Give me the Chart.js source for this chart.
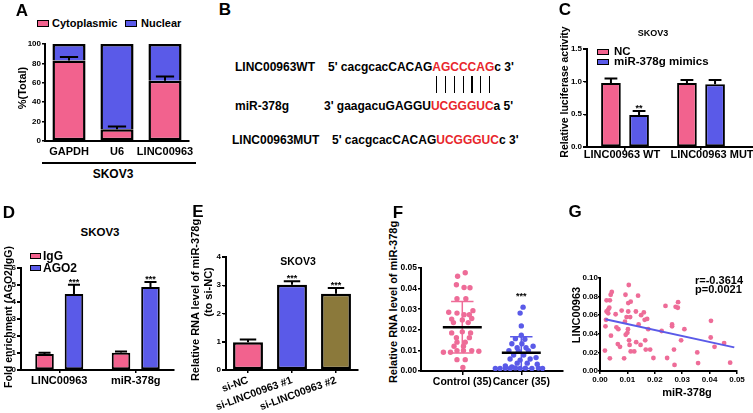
<!DOCTYPE html>
<html>
<head>
<meta charset="utf-8">
<script src="https://cdn.jsdelivr.net/npm/chart.js"></script>
<style>
  body { margin: 0; background: #fff; }
  #fig { position: relative; width: 753px; height: 413px; overflow: hidden; background: #fff;
         font-family: "Liberation Sans", Arial, sans-serif; font-weight: bold; color: #000; }
  #fig canvas { position: absolute; }
  .t { position: absolute; white-space: nowrap; line-height: 1; }
  .sw { position: absolute; border: 1.5px solid #000; box-sizing: border-box; }
  .red { color: #e8262c; }
</style>
</head>
<body>
<div id="fig"></div>
<script>
// A - subcellular fraction
const catA = ['GAPDH', 'U6', 'LINC00963'];
const cytoA = [83, 12, 62];
const cytoErrA = [3.5, 3, 4.5];
const nucA = [17, 88, 38];

// C - luciferase
const catC = ['LINC00963 WT', 'LINC00963 MUT'];
const ncC = [0.98, 0.98];
const ncErrC = [0.07, 0.045];
const mimC = [0.49, 0.96];
const mimErrC = [0.06, 0.065];
const sigC = ['**', ''];
const yTicksC = [0, 0.5, 1.0, 1.5];

// D - RIP
const catD = ['LINC00963', 'miR-378g'];
const iggD = [0.94, 1.02];
const iggErrD = [0.07, 0.07];
const agoD = [4.47, 4.88];
const agoErrD = [0.55, 0.3];
const sigD = ['***', '***'];
const yTicksD = [0, 1, 2, 3, 4, 5, 6];

// E - knockdown
const catE = ['si-NC', 'si-LINC00963 #1', 'si-LINC00963 #2'];
const valE = [0.98, 3.02, 2.70];
const errE = [0.1, 0.12, 0.2];
const sigE = ['', '***', '***'];
const yTicksE = [0, 1, 2, 3, 4];

// F - tissue levels (jitter = horizontal spread in category units)
const catF = ['Control (35)', 'Cancer (35)'];
const controlF = [0.0477, 0.046, 0.0419, 0.0405, 0.0404, 0.0351, 0.0351, 0.0293, 0.0285, 0.0281,
  0.0273, 0.0273, 0.0255, 0.0252, 0.0248, 0.0235, 0.0235, 0.0185, 0.019, 0.0185,
  0.0162, 0.0162, 0.014, 0.014, 0.012, 0.012, 0.0091, 0.0091, 0.0099, 0.0099,
  0.0099, 0.0096, 0.0055, 0.0055, 0.0017];
const controlJitF = [0.05, -0.08, -0.1, 0.03, 0.13, -0.09, 0.06, 0.18, -0.23, -0.09,
  0.03, 0.12, 0.16, -0.18, 0, -0.15, 0.1, -0.18, 0, 0.14,
  -0.1, 0.12, -0.09, 0.05, -0.14, 0.02, -0.32, -0.2, -0.09, 0.02,
  0.16, 0.28, -0.09, 0.05, 0.01];
const cancerF = [0.031, 0.0281, 0.0219, 0.0174, 0.0157, 0.0154, 0.0132, 0.0132, 0.012, 0.0113,
  0.0113, 0.0099, 0.0096, 0.0099, 0.0078, 0.0078, 0.0065, 0.0058, 0.0053, 0.0058,
  0.0038, 0.0038, 0.0033, 0.0025, 0.002, 0.0012, 0.0012, 0.0013, 0.0012, 0.0015,
  0.0012, 0.0013, 0.0012, 0.0014, 0.0012];
const cancerJitF = [0.03, -0.02, 0, 0, -0.1, 0.06, -0.16, 0.01, 0.2, -0.07,
  0.08, -0.21, -0.05, 0.12, -0.13, 0.04, 0.25, -0.19, -0.02, 0.15,
  -0.07, 0.1, 0.27, -0.27, -0.16, -0.44, -0.36, -0.27, -0.19, -0.1,
  -0.02, 0.07, 0.18, 0.29, 0.36];
const meanF = [0.0212, 0.0089];
const sdF = [0.0125, 0.0077];
const sigF = ['', '***'];
const sigLevelF = 0.035;

// G - correlation
const mirG = [0.0018, 0.0036, 0.002, 0.0022, 0.0024, 0.003, 0.0034, 0.0024, 0.0036, 0.0039,
  0.0043, 0.003, 0.004, 0.0057, 0.006, 0.0067, 0.0065, 0.0073, 0.0079, 0.0091,
  0.0097, 0.0094, 0.010, 0.0088, 0.0093, 0.0103, 0.0103, 0.0105, 0.0112, 0.011,
  0.0102, 0.0106, 0.0108, 0.0112, 0.0125, 0.0131, 0.0139, 0.0132, 0.0141, 0.0148,
  0.015, 0.016, 0.0165, 0.0167, 0.0163, 0.0172, 0.0176, 0.0183, 0.0195, 0.0225,
  0.0239, 0.0245, 0.0263, 0.0263, 0.027, 0.0272, 0.0276, 0.0285, 0.0284, 0.0296,
  0.0308, 0.0355, 0.0358, 0.0405, 0.0404, 0.0418, 0.0453, 0.0475];
const lincG = [0.022, 0.0136, 0.048, 0.055, 0.064, 0.066, 0.068, 0.076, 0.076, 0.082,
  0.085, 0.062, 0.038, 0.061, 0.047, 0.045, 0.029, 0.026, 0.065, 0.053,
  0.058, 0.039, 0.041, 0.0136, 0.082, 0.064, 0.073, 0.0925, 0.0745, 0.058,
  0.045, 0.033, 0.028, 0.021, 0.021, 0.064, 0.081, 0.031, 0.050, 0.028,
  0.06, 0.063, 0.033, 0.023, 0.055, 0.056, 0.045, 0.023, 0.014, 0.043,
  0.070, 0.014, 0.050, 0.048, 0.023, 0.0065, 0.069, 0.074, 0.068, 0.033,
  0.045, 0.020, 0.0085, 0.054, 0.036, 0.026, 0.030, 0.009];
const fitXG = [0.002, 0.049];
const fitYG = [0.0556, 0.0254];
const statG = ['r=-0.3614', 'p=0.0021'];

const PINK = '#F2628E', BLUE = '#5A5AE8', OLIVE = '#8B793B';
const DOT_PINK = '#EE6C98';
const FONT = '"Liberation Sans", Arial, sans-serif';
const BAR_TICK = 8;

Chart.defaults.font.family = FONT;
Chart.defaults.font.weight = 'bold';
Chart.defaults.color = '#000';

const fig = document.getElementById('fig');

function txt(html, x, y, size, o = {}) {
  const d = document.createElement('div');
  d.className = 't';
  d.innerHTML = html;
  d.style.fontSize = size + 'px';
  d.style.left = x + 'px';
  d.style.top = y + 'px';
  let tf = o.left ? 'translate(0,-50%)' : o.right ? 'translate(-100%,-50%)' : 'translate(-50%,-50%)';
  if (o.rot) tf += ' rotate(-90deg)';
  d.style.transform = tf;
  fig.appendChild(d);
  return d;
}

function swatch(x, y, w, h, color) {
  const d = document.createElement('div');
  d.className = 'sw';
  Object.assign(d.style, { left: x + 'px', top: y + 'px', width: w + 'px', height: h + 'px', background: color });
  fig.appendChild(d);
}

function rule(x, y, w, h) {
  const d = document.createElement('div');
  Object.assign(d.style, { position: 'absolute', left: x + 'px', top: y + 'px', width: w + 'px', height: h + 'px', background: '#000' });
  fig.appendChild(d);
}

// error bars and significance stars for bar charts
const errorBars = {
  id: 'errorBars',
  afterDatasetsDraw(chart) {
    const ctx = chart.ctx, y = chart.scales.y;
    chart.data.datasets.forEach((ds, i) => {
      if (!ds.errors) return;
      chart.getDatasetMeta(i).data.forEach((bar, j) => {
        const top = y.getPixelForValue(ds.data[j] + ds.errors[j]);
        const half = bar.width * ds.capRatio / 2;
        ctx.save();
        ctx.strokeStyle = '#000';
        ctx.lineWidth = 2;
        ctx.beginPath();
        ctx.moveTo(bar.x, bar.y);
        ctx.lineTo(bar.x, top);
        ctx.moveTo(bar.x - half, top);
        ctx.lineTo(bar.x + half, top);
        ctx.stroke();
        if (ds.stars && ds.stars[j]) {
          ctx.fillStyle = '#000';
          ctx.font = 'bold 9px ' + FONT;
          ctx.textAlign = 'center';
          ctx.textBaseline = 'alphabetic';
          ctx.fillText(ds.stars[j], bar.x, top);
        }
        ctx.restore();
      });
    });
  }
};

function makeChart(box, area, config) {
  const c = document.createElement('canvas');
  c.width = box[2];
  c.height = box[3];
  c.style.left = box[0] + 'px';
  c.style.top = box[1] + 'px';
  fig.appendChild(c);
  const o = config.options;
  o.responsive = false;
  o.animation = false;
  o.layout = { autoPadding: false, padding: { left: 0, top: area[1] - box[1], right: box[0] + box[2] - area[2], bottom: 0 } };
  o.scales.x.afterFit = s => { s.height = box[1] + box[3] - area[3]; };
  o.scales.y.afterFit = s => { s.width = area[0] - box[0]; };
  o.plugins = { legend: { display: false }, tooltip: { enabled: false } };
  return new Chart(c, config);
}

// value-axis numbers and tick marks of the bar panels (laid on top as page text)
const tickJobs = [];
function yTickText(ticks, dec, area) {
  const lo = ticks[0], hi = ticks[ticks.length - 1];
  ticks.forEach(v => {
    const py = area[1] + (hi - v) / (hi - lo) * (area[3] - area[1]);
    tickJobs.push([v.toFixed(dec), area[0] - 4, py]);
    rule(area[0] - 4, py - 0.75, 4, 1.5);
  });
}

function yAxis(min, max, step, size, dec, extra = {}) {
  return Object.assign({
    min, max,
    ticks: { stepSize: step, font: { size }, padding: 1, autoSkip: false, callback: v => v.toFixed(dec) },
    grid: { drawOnChartArea: false, tickLength: 3, color: '#000', lineWidth: 1.5 },
    border: { color: '#000', width: 2 }
  }, extra);
}

function barYAxis(ticks, dec) {
  const a = yAxis(ticks[0], ticks[ticks.length - 1], ticks[1] - ticks[0], BAR_TICK, dec);
  a.ticks.display = false;
  return a;
}

function catAxis(size, tickLen, pad, extra = {}) {
  return Object.assign({
    ticks: { font: { size }, padding: pad, autoSkip: false, maxRotation: 0 },
    grid: { drawOnChartArea: false, offset: false, drawTicks: tickLen > 0, tickLength: tickLen, color: '#000', lineWidth: 1.5 },
    border: { color: '#000', width: 2 }
  }, extra);
}

// ---------- A ----------
makeChart([20, 36, 180, 124], [45, 44, 189, 141], {
  type: 'bar',
  data: {
    labels: catA,
    datasets: [
      { label: 'Cytoplasmic', data: cytoA, errors: cytoErrA, capRatio: 0.55, backgroundColor: PINK,
        borderColor: '#000', borderWidth: 2.5, borderSkipped: false, barPercentage: 0.69, categoryPercentage: 1 },
      { label: 'Nuclear', data: nucA, backgroundColor: BLUE,
        borderColor: '#000', borderWidth: 2.5, borderSkipped: 'start', barPercentage: 0.69, categoryPercentage: 1 }
    ]
  },
  options: {
    scales: {
      x: catAxis(11, 0, 4, { stacked: true }),
      y: yAxis(0, 100, 20, 8, 0, { stacked: true })
    }
  },
  plugins: [errorBars]
});
swatch(37, 20, 12, 7, PINK); txt('Cytoplasmic', 52, 23, 11, { left: true });
swatch(125, 20, 12, 7, BLUE); txt('Nuclear', 141, 23, 11, { left: true });
txt('%(Total)', 22, 88, 11, { rot: true });
rule(42, 162, 154, 1.5);
txt('SKOV3', 113, 174, 12);

// ---------- B ----------
const seqRows = [
  { name: 'LINC00963WT', nx: 235, sx: 328, y: 67, pre: "5' cacgcacCACAG", hit: 'AGCCCAG', post: "c 3'" },
  { name: 'miR-378g', nx: 235, sx: 324, y: 106, pre: "3' gaagacuGAGGU", hit: 'UCGGGUC', post: "a 5'" },
  { name: 'LINC00963MUT', nx: 232, sx: 332, y: 140, pre: "5' cacgcacCACAG", hit: 'UCGGGUC', post: "c 3'" }
];
const hitSpans = [];
seqRows.forEach((r, k) => {
  txt(r.name, r.nx, r.y, 12, { left: true });
  const letters = r.hit.split('').map(ch => '<span class="red">' + ch + '</span>').join('');
  const d = txt(r.pre + letters + r.post, r.sx, r.y, 12, { left: true });
  if (k === 0) hitSpans.push(...d.querySelectorAll('.red'));
});
const figBox = fig.getBoundingClientRect();
hitSpans.forEach(s => {
  const b = s.getBoundingClientRect();
  rule(b.left - figBox.left + b.width / 2 - 0.6, 76, 1.3, 17);
});

// ---------- C ----------
const areaC = [587, 49, 739, 147];
const xAxisC = catAxis(11, 3, 0);
xAxisC.ticks.display = false;
makeChart([560, 40, 193, 125], areaC, {
  type: 'bar',
  data: {
    labels: catC,
    datasets: [
      { label: 'NC', data: ncC, errors: ncErrC, capRatio: 0.65, backgroundColor: PINK,
        borderColor: '#000', borderWidth: 2, borderSkipped: false, barPercentage: 0.7, categoryPercentage: 0.74 },
      { label: 'miR-378g mimics', data: mimC, errors: mimErrC, stars: sigC, capRatio: 0.65, backgroundColor: BLUE,
        borderColor: '#000', borderWidth: 2, borderSkipped: false, barPercentage: 0.7, categoryPercentage: 0.74 }
    ]
  },
  options: {
    scales: {
      x: xAxisC,
      y: barYAxis(yTicksC, 1)
    }
  },
  plugins: [errorBars]
});
yTickText(yTicksC, 1, areaC);
rule(738, 146, 15, 2);
txt(catC[0], 622, 154, 11);
txt(catC[1], 712, 154, 11);
txt('SKOV3', 653, 33, 9);
swatch(597, 49, 12, 6, PINK); txt('NC', 614, 52, 11.5, { left: true });
swatch(597, 59, 12, 6, BLUE); txt('miR-378g mimics', 614, 62, 11.5, { left: true });
txt('Relative luciferase activity', 564, 92, 10.5, { rot: true });

// ---------- D ----------
const areaD = [21, 268, 174, 370];
makeChart([0, 258, 185, 140], areaD, {
  type: 'bar',
  data: {
    labels: catD,
    datasets: [
      { label: 'IgG', data: iggD, errors: iggErrD, capRatio: 0.65, backgroundColor: PINK,
        borderColor: '#000', borderWidth: 2, borderSkipped: false, barPercentage: 0.63, categoryPercentage: 0.77 },
      { label: 'AGO2', data: agoD, errors: agoErrD, stars: sigD, capRatio: 0.65, backgroundColor: BLUE,
        borderColor: '#000', borderWidth: 2, borderSkipped: false, barPercentage: 0.63, categoryPercentage: 0.77 }
    ]
  },
  options: {
    scales: {
      x: catAxis(11, 3, 1),
      y: barYAxis(yTicksD, 0)
    }
  },
  plugins: [errorBars]
});
yTickText(yTicksD, 0, areaD);
txt('SKOV3', 100, 233, 11.5);
swatch(30, 253, 11, 6, PINK); txt('IgG', 43, 256, 12, { left: true });
swatch(30, 265, 11, 6, BLUE); txt('AGO2', 43, 268, 12, { left: true });
txt('Fold enrichment (AGO2/IgG)', 8, 317, 10.5, { rot: true });

// ---------- E ----------
const areaE = [226, 257, 358, 370];
const xAxisE = catAxis(10.5, 3, 1);
xAxisE.ticks.minRotation = 20;
xAxisE.ticks.maxRotation = 20;
makeChart([205, 250, 155, 163], areaE, {
  type: 'bar',
  data: {
    labels: catE,
    datasets: [
      { label: 'miR-378g', data: valE, errors: errE, stars: sigE, capRatio: 0.55, backgroundColor: [PINK, BLUE, OLIVE],
        borderColor: '#000', borderWidth: 2.5, borderSkipped: false, barPercentage: 0.68, categoryPercentage: 1 }
    ]
  },
  options: {
    scales: {
      x: xAxisE,
      y: barYAxis(yTicksE, 0)
    }
  },
  plugins: [errorBars]
});
yTickText(yTicksE, 0, areaE);
txt('SKOV3', 298, 261, 10.5);
txt('Relative RNA level of miR-378g', 195, 300, 11, { rot: true });
txt('(to si-NC)', 208, 292, 11, { rot: true });

// ---------- F ----------
const groupColF = [DOT_PINK, BLUE];
const meanSd = {
  id: 'meanSd',
  afterDatasetsDraw(chart) {
    const { ctx, scales: { x, y } } = chart;
    meanF.forEach((m, i) => {
      const cx = i + 1;
      const px = x.getPixelForValue(cx);
      const hi = y.getPixelForValue(m + sdF[i]);
      const lo = y.getPixelForValue(m - sdF[i]);
      const c0 = x.getPixelForValue(cx - 0.19), c1 = x.getPixelForValue(cx + 0.19);
      ctx.save();
      ctx.strokeStyle = groupColF[i];
      ctx.lineWidth = 1.5;
      ctx.beginPath();
      ctx.moveTo(px, hi); ctx.lineTo(px, lo);
      ctx.moveTo(c0, hi); ctx.lineTo(c1, hi);
      ctx.moveTo(c0, lo); ctx.lineTo(c1, lo);
      ctx.stroke();
      ctx.strokeStyle = '#000';
      ctx.lineWidth = 2.5;
      ctx.beginPath();
      ctx.moveTo(x.getPixelForValue(cx - 0.33), y.getPixelForValue(m));
      ctx.lineTo(x.getPixelForValue(cx + 0.33), y.getPixelForValue(m));
      ctx.stroke();
      if (sigF[i]) {
        ctx.fillStyle = '#000';
        ctx.font = 'bold 9px ' + FONT;
        ctx.textAlign = 'center';
        ctx.fillText(sigF[i], px, y.getPixelForValue(sigLevelF));
      }
      ctx.restore();
    });
  }
};
const xAxisF = catAxis(10.5, 4, 1, {
  type: 'linear', min: 0.3, max: 2.7,
  afterBuildTicks: s => { s.ticks = [{ value: 1 }, { value: 2 }]; }
});
xAxisF.ticks.callback = (v, i) => catF[i];
makeChart([400, 258, 170, 155], [421, 268, 562.6, 371], {
  type: 'scatter',
  data: {
    datasets: [
      { label: 'Control', data: controlF.map((v, k) => ({ x: 1 + controlJitF[k], y: v })),
        backgroundColor: DOT_PINK, borderWidth: 0, pointRadius: 2.7 },
      { label: 'Cancer', data: cancerF.map((v, k) => ({ x: 2 + cancerJitF[k], y: v })),
        backgroundColor: BLUE, borderWidth: 0, pointRadius: 2.7 }
    ]
  },
  options: {
    scales: {
      x: xAxisF,
      y: yAxis(0, 0.05, 0.01, 8.5, 2)
    }
  },
  plugins: [meanSd]
});
txt('Relative RNA level of miR-378g', 393, 302, 11, { rot: true });

// ---------- G ----------
const yAxisG = yAxis(0, 0.10, 0.02, 8, 2);
yAxisG.ticks.padding = 0;
yAxisG.grid.tickLength = 2;
makeChart([575, 268, 178, 120], [600, 278, 737, 371], {
  type: 'scatter',
  data: {
    datasets: [
      { label: 'fit', data: fitXG.map((v, k) => ({ x: v, y: fitYG[k] })), showLine: true,
        borderColor: BLUE, borderWidth: 2, pointRadius: 0 },
      { label: 'samples', data: mirG.map((v, k) => ({ x: v, y: lincG[k] })),
        backgroundColor: DOT_PINK, borderWidth: 0, pointRadius: 2.4 }
    ]
  },
  options: {
    scales: {
      x: yAxis(0, 0.05, 0.01, 8, 2, { type: 'linear' }),
      y: yAxisG
    }
  }
});
txt('LINC00963', 576, 315, 11, { rot: true });
txt('miR-378g', 687, 392, 11);
txt(statG[0], 695, 280, 11, { left: true });
txt(statG[1], 695, 289, 11, { left: true });

// panel letters
[['A', 22, 10], ['B', 225, 9], ['C', 565, 9], ['D', 9, 212], ['E', 198, 211], ['F', 398, 212], ['G', 575, 211]]
  .forEach(([l, x, y]) => txt(l, x, y, 17));

// tick numbers of C, D, E go on top of everything
tickJobs.forEach(([label, x, y]) => txt(label, x - 1, y, BAR_TICK, { right: true }));
</script>
</body>
</html>
